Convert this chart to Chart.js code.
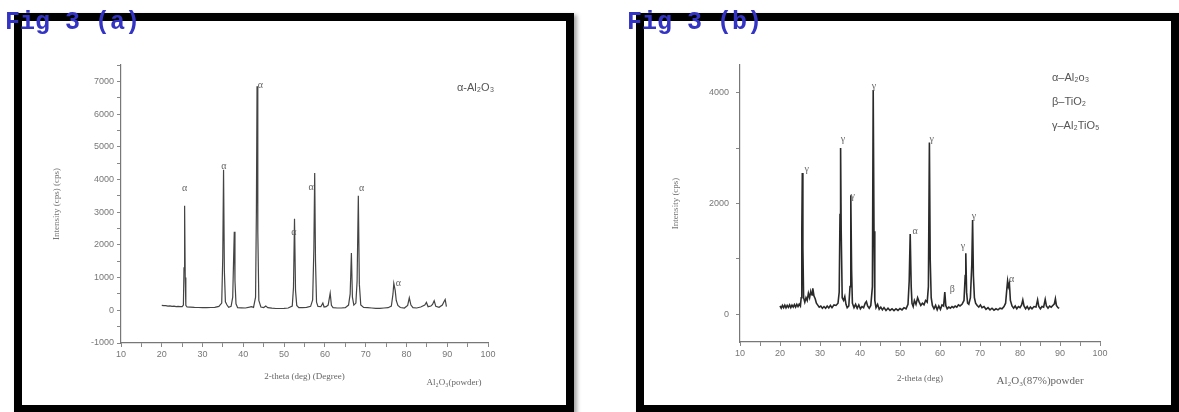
<!DOCTYPE html>
<html>
<head>
<meta charset="utf-8">
<script src="https://cdn.jsdelivr.net/npm/chart.js@4.4.0/dist/chart.umd.min.js"></script>
<style>
  body { margin: 0; width: 1179px; height: 412px; overflow: hidden; background: #fff; position: relative; }
  .frame { position: absolute; top: 13px; height: 400px; border: 8px solid #000; box-sizing: border-box;
           box-shadow: 3px 2px 4px rgba(0,0,0,0.35); background: #fff; }
  .fig { position: absolute; top: 8px; font: bold 25px "Liberation Mono", monospace; color: #3434c4; z-index: 5; white-space: pre; }
  canvas { position: absolute; top: 21px; }
</style>
</head>
<body>
<div class="frame" style="left:14px; width:560px;"></div>
<div class="frame" style="left:636px; width:543px;"></div>
<div class="fig" style="left:5px;">Fig 3 (a)</div>
<div class="fig" style="left:627px;">Fig 3 (b)</div>
<canvas id="chartA" width="544" height="384" style="left:22px;"></canvas>
<canvas id="chartB" width="527" height="384" style="left:644px;"></canvas>
<script>
// ---- data: panel (a) Al2O3 powder ----
var aTheta = [
  20.0,20.5,21.0,21.5,22.0,22.5,23.0,23.5,24.0,24.5,
  25.0,25.3,25.45,25.6,25.75,25.9,26.2,27.0,28.0,29.0,
  30.0,31.0,32.0,33.0,34.0,34.7,34.95,35.15,35.35,35.6,
  36.0,36.4,37.0,37.4,37.6,37.78,37.95,38.2,38.6,39.5,
  40.5,41.5,42.0,42.5,43.0,43.2,43.36,43.55,43.8,44.3,
  45.0,45.5,46.0,47.0,48.0,49.0,50.0,51.0,52.0,52.3,
  52.55,52.8,53.1,53.6,54.5,55.5,56.5,57.0,57.3,57.5,
  57.7,57.95,58.3,59.0,59.5,59.8,60.3,60.8,61.3,61.6,
  62.0,63.0,64.0,65.0,65.8,66.2,66.5,66.75,67.1,67.6,
  67.9,68.2,68.45,68.8,69.5,70.5,71.5,72.5,73.5,74.5,
  75.5,76.3,76.7,76.9,77.25,77.5,77.9,78.5,79.5,80.3,
  80.7,81.1,81.6,82.5,83.5,84.5,84.9,85.3,86.0,86.4,
  86.8,87.2,88.0,88.8,89.2,89.5,89.8
];
var aCounts = [
  150,140,145,130,135,120,125,115,118,110,
  112,160,1300,3200,1000,150,100,95,88,85,
  80,82,85,90,120,220,1600,4300,1200,260,
  160,90,120,400,1500,2400,900,200,80,75,
  70,95,110,90,400,3000,6850,2400,300,100,
  85,130,80,65,55,55,60,70,130,700,
  2800,600,150,80,80,90,120,320,1900,4200,
  1500,250,120,110,220,100,110,160,520,150,
  80,70,70,80,160,500,1750,400,160,220,
  900,3500,800,160,90,80,70,60,60,70,
  80,130,500,820,600,300,150,85,70,150,
  380,160,80,70,100,160,240,110,130,180,
  290,120,90,160,260,330,110
];
var aPeakTheta = [25.6, 35.2, 44.2, 52.4, 56.6, 69.0, 78.0];
var aPeakCount = [3730, 4410, 6870, 2390, 3770, 3720, 810];
var aPeakText  = ['α','α','α','α','α','α','α'];
var aYTicks = [-1000,-500,0,500,1000,1500,2000,2500,3000,3500,4000,4500,5000,5500,6000,6500,7000,7500];
var aYLabels = [-1000,0,1000,2000,3000,4000,5000,6000,7000];

// ---- data: panel (b) Al2O3 (87%) powder ----
var bTheta = [
  20.0,20.3,20.6,20.9,21.2,21.5,21.8,22.1,22.4,22.7,
  23.0,23.3,23.6,23.9,24.2,24.5,24.8,25.1,25.3,25.45,
  25.58,25.72,25.9,26.2,26.5,26.8,27.1,27.4,27.7,28.0,
  28.2,28.5,28.8,29.1,29.4,29.8,30.2,30.6,31.0,31.4,
  31.8,32.2,32.6,33.0,33.5,34.0,34.5,34.8,35.0,35.15,
  35.3,35.55,35.9,36.2,36.5,36.8,37.2,37.5,37.7,37.9,
  38.1,38.5,38.9,39.3,39.7,40.1,40.5,40.9,41.3,41.6,
  41.9,42.3,42.7,43.1,43.3,43.5,43.7,44.0,44.4,44.8,
  45.2,45.6,46.0,46.5,47.0,47.5,48.0,48.5,49.0,49.5,
  50.0,50.5,51.0,51.5,52.0,52.3,52.55,52.8,53.0,53.3,
  53.6,54.0,54.4,54.8,55.2,55.6,56.0,56.4,56.8,57.1,
  57.35,57.55,57.8,58.1,58.5,58.9,59.3,59.7,60.1,60.5,
  60.9,61.2,61.45,61.8,62.2,62.6,63.0,63.4,63.8,64.2,
  64.6,65.0,65.5,66.0,66.3,66.45,66.65,66.9,67.2,67.6,
  67.95,68.15,68.35,68.6,68.9,69.3,69.7,70.1,70.5,71.0,
  71.5,72.0,72.5,73.0,73.5,74.0,74.5,75.0,75.5,76.0,
  76.4,76.7,76.9,77.1,77.35,77.6,78.0,78.4,78.8,79.2,
  79.6,80.0,80.4,80.7,81.0,81.4,81.8,82.2,82.6,83.0,
  83.5,84.0,84.4,84.7,85.1,85.5,85.9,86.3,86.6,87.0,
  87.4,87.8,88.2,88.6,88.85,89.1,89.5,89.8
];
var bCounts = [
  150,110,160,120,165,115,160,125,170,120,
  165,130,175,130,180,140,185,150,300,1500,
  2550,1200,300,220,300,250,380,300,420,350,
  470,330,280,200,170,130,150,110,140,110,
  150,115,160,120,170,160,200,400,1800,3000,
  1500,300,250,320,180,120,150,500,2150,800,
  200,120,180,110,170,100,140,120,200,230,
  150,110,160,500,4050,1500,250,120,180,90,
  130,80,120,70,110,70,100,65,100,70,
  105,80,120,100,180,600,1450,500,200,140,
  250,180,300,220,160,200,170,250,220,500,
  3100,1000,300,160,100,160,80,150,90,170,
  150,400,160,100,130,110,140,120,150,130,
  170,150,180,250,700,1100,400,200,180,300,
  900,1700,700,300,200,160,130,170,120,140,
  90,120,80,110,75,100,80,110,100,140,
  200,450,600,500,560,250,150,110,150,100,
  140,120,170,260,150,100,140,90,130,100,
  140,130,260,140,100,140,130,270,150,110,
  150,130,160,190,280,160,120,110
];
var bPeakTheta = [26.7, 35.75, 38.2, 43.5, 53.75, 57.9, 63.1, 65.75, 68.5, 77.9];
var bPeakCount = [2610, 3150, 2130, 4110, 1500, 3150, 450, 1230, 1770, 630];
var bPeakText  = ['γ','γ','γ','γ','α','γ','β','γ','γ','α'];
var bYTicks = [0,1000,2000,3000,4000];
var bYLabels = [0,2000,4000];

var xTicks = [10,15,20,25,30,35,40,45,50,55,60,65,70,75,80,85,90,95,100];
var xLabels = [10,20,30,40,50,60,70,80,90,100];

// text on the plot: peak marks, phase legend, sample caption
const notes = {
  id: 'notes',
  afterDatasetsDraw(chart, args, o) {
    const ctx = chart.ctx, x = chart.scales.x, y = chart.scales.y;
    ctx.save();
    ctx.fillStyle = '#666';
    ctx.textAlign = 'center';
    ctx.textBaseline = 'middle';
    ctx.font = '10px "Liberation Serif", serif';
    o.peakTheta.forEach(function (t, i) {
      ctx.fillText(o.peakText[i], x.getPixelForValue(t), y.getPixelForValue(o.peakCount[i]));
    });
    ctx.textAlign = 'left';
    ctx.fillStyle = '#555';
    ctx.font = o.legendFont;
    o.legend.forEach(function (l, i) {
      ctx.fillText(l, o.legendX, o.legendY + i * o.legendGap);
    });
    ctx.textAlign = 'center';
    ctx.fillStyle = '#666';
    ctx.font = o.captionFont;
    ctx.fillText(o.caption, o.captionX, o.captionY);
    ctx.restore();
  }
};

function makeChart(id, theta, counts, opt) {
  return new Chart(id, {
    type: 'line',
    data: {
      datasets: [{
        data: theta.map(function (t, i) { return { x: t, y: counts[i] }; }),
        borderColor: opt.lineColor,
        borderWidth: opt.lineWidth,
        pointRadius: 0,
        tension: 0
      }]
    },
    options: {
      responsive: false,
      animation: false,
      layout: { padding: { top: 44, right: opt.padRight, bottom: 0, left: 0 } },
      plugins: {
        legend: { display: false },
        tooltip: { enabled: false },
        notes: opt.notes
      },
      scales: {
        x: {
          type: 'linear', min: 10, max: 100,
          afterBuildTicks: function (s) { s.ticks = xTicks.map(function (v) { return { value: v }; }); },
          afterFit: function (s) { s.height = opt.xHeight; },
          ticks: {
            autoSkip: false, maxRotation: 0, padding: 2, color: '#777',
            font: { family: '"Liberation Sans", sans-serif', size: 9 },
            callback: function (v) { return xLabels.indexOf(v) >= 0 ? String(v) : ''; }
          },
          grid: { drawOnChartArea: false, tickLength: 4, color: '#888' },
          border: { color: '#777', width: 1.2 },
          title: {
            display: true, text: opt.xTitle, color: '#666',
            font: { family: '"Liberation Serif", serif', size: 9 },
            padding: { top: 0, bottom: opt.xTitlePad }
          }
        },
        y: {
          min: opt.yMin, max: opt.yMax,
          afterBuildTicks: function (s) { s.ticks = opt.yTicks.map(function (v) { return { value: v }; }); },
          afterFit: function (s) { s.width = opt.yWidth; },
          ticks: {
            padding: opt.yTickPad, color: '#777',
            font: { family: '"Liberation Sans", sans-serif', size: 9 },
            callback: function (v) { return opt.yLabels.indexOf(v) >= 0 ? String(v) : ''; }
          },
          grid: { drawOnChartArea: false, tickLength: 4, color: '#888' },
          border: { color: '#777', width: 1.2 },
          title: {
            display: true, text: opt.yTitle, color: '#777',
            font: { family: '"Liberation Serif", serif', size: 9 },
            padding: { top: opt.yTitlePad, bottom: 0 }
          }
        }
      }
    },
    plugins: [notes]
  });
}

makeChart('chartA', aTheta, aCounts, {
  lineColor: '#444', lineWidth: 1.2,
  padRight: 78, xHeight: 62, yWidth: 99, yTickPad: 3,
  yMin: -1000, yMax: 7500, yTicks: aYTicks, yLabels: aYLabels,
  xTitle: '2-theta (deg) (Degree)', xTitlePad: 23,
  yTitle: 'Intensity (cps) (cps)', yTitlePad: 29,
  notes: {
    peakTheta: aPeakTheta, peakCount: aPeakCount, peakText: aPeakText,
    legend: ['α-Al₂O₃'], legendX: 435, legendY: 67, legendGap: 0,
    legendFont: '11px "Liberation Sans", sans-serif',
    caption: 'Al₂O₃(powder)', captionX: 432, captionY: 362,
    captionFont: '9px "Liberation Serif", serif'
  }
});

makeChart('chartB', bTheta, bCounts, {
  lineColor: '#2a2a2a', lineWidth: 1.6,
  padRight: 71, xHeight: 63, yWidth: 96, yTickPad: 7,
  yMin: -500, yMax: 4500, yTicks: bYTicks, yLabels: bYLabels,
  xTitle: '2-theta (deg)', xTitlePad: 21,
  yTitle: 'Intensity (cps)', yTitlePad: 26,
  notes: {
    peakTheta: bPeakTheta, peakCount: bPeakCount, peakText: bPeakText,
    legend: ['α–Al₂o₃', 'β–TiO₂', 'γ–Al₂TiO₅'], legendX: 408, legendY: 57, legendGap: 24,
    legendFont: '11px "Liberation Sans", sans-serif',
    caption: 'Al₂O₃(87%)powder', captionX: 396, captionY: 360,
    captionFont: '11px "Liberation Serif", serif'
  }
});
</script>
</body>
</html>
